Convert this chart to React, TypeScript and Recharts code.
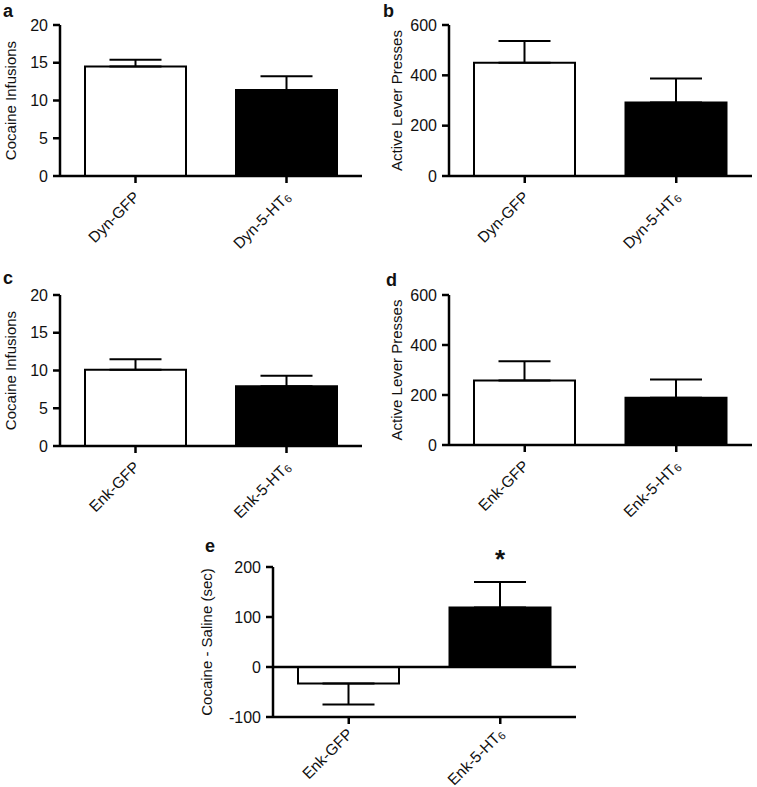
import React from "react";
import { BarChart, Bar, Cell, XAxis, YAxis, ErrorBar, ReferenceLine, LabelList } from "recharts";

const FONT = "'Liberation Sans', Arial, Helvetica, sans-serif";
const INK = "#111111";

const dynGroups = ["Dyn-GFP", "Dyn-5-HT6"];
const enkGroups = ["Enk-GFP", "Enk-5-HT6"];

const dynInfusions = [14.5, 11.4];
const dynInfusionsSem = [0.9, 1.8];
const dynPresses = [450, 292];
const dynPressesSem = [86, 95];
const enkInfusions = [10.1, 7.9];
const enkInfusionsSem = [1.4, 1.4];
const enkPresses = [258, 189];
const enkPressesSem = [77, 73];
const enkPreference = [-33, 119];
const enkPreferenceSem = [42, 51];
const enkPreferenceSig = ["", "*"];

const infusionTicks = [0, 5, 10, 15, 20];
const pressTicks = [0, 200, 400, 600];
const preferenceTicks = [-100, 0, 100, 200];

const barFills = ["#ffffff", "#000000"];

// error bars only go away from zero, like the Prism original
function rows(groups: string[], values: number[], sems: number[], sig: string[] = []) {
  return groups.map((group, i) => ({
    group,
    value: values[i],
    err: values[i] < 0 ? [sems[i], 0] : [0, sems[i]],
    sig: sig[i] ?? "",
  }));
}

function GroupTick({ x, y, payload, lift = 0 }: any) {
  const text = String(payload.value);
  const m = text.match(/^(.*HT)(\d)$/);
  return (
    <g transform={`translate(${x + 5},${y + 15 - lift})`}>
      <text transform="rotate(-45)" textAnchor="end" fontSize={15.5} fill={INK} fontFamily={FONT}>
        {m ? (
          <>
            {m[1]}
            <tspan fontSize={11} dy={2}>
              {m[2]}
            </tspan>
          </>
        ) : (
          text
        )}
      </text>
    </g>
  );
}

function StarLabel(props: any) {
  const { x, y, width, value } = props;
  if (!value) return null;
  return (
    <text x={x + width / 2} y={y - 40} textAnchor="middle" fontSize={26} fontWeight="bold" fill={INK} fontFamily={FONT}>
      {value}
    </text>
  );
}

interface PanelProps {
  left: number;
  top: number;
  width: number;
  height: number;
  marginTop: number;
  marginRight: number;
  yWidth: number;
  xHeight: number;
  data: any[];
  ticks: number[];
  yLabel: string;
  labelX: number;
  zeroLine?: boolean;
  tickLift?: number;
}

function Panel(p: PanelProps) {
  const plotH = p.height - p.marginTop - p.xHeight;
  const cy = p.marginTop + plotH / 2;
  return (
    <div style={{ position: "absolute", left: p.left, top: p.top }}>
      <BarChart
        width={p.width}
        height={p.height}
        data={p.data}
        margin={{ top: p.marginTop, right: p.marginRight, left: 0, bottom: 0 }}
      >
        <XAxis
          dataKey="group"
          height={p.xHeight}
          axisLine={{ stroke: "#000", strokeWidth: 2.5 }}
          tickLine={{ stroke: "#000", strokeWidth: 2.5 }}
          tickSize={7}
          tickMargin={0}
          interval={0}
          tick={<GroupTick lift={p.tickLift ?? 0} />}
        />
        <YAxis
          width={p.yWidth}
          domain={[p.ticks[0], p.ticks[p.ticks.length - 1]]}
          ticks={p.ticks}
          interval={0}
          axisLine={{ stroke: "#000", strokeWidth: 2.5 }}
          tickLine={{ stroke: "#000", strokeWidth: 2.5 }}
          tickSize={7}
          tickMargin={5}
          tick={{ fontSize: 16, fill: INK, fontFamily: FONT }}
          label={{
            content: () => (
              <text
                x={p.labelX}
                y={cy}
                transform={`rotate(-90 ${p.labelX} ${cy})`}
                textAnchor="middle"
                fontSize={15}
                fill={INK}
                fontFamily={FONT}
              >
                {p.yLabel}
              </text>
            ),
          }}
        />
        {p.zeroLine && <ReferenceLine y={0} stroke="#000" strokeWidth={2.5} />}
        <Bar dataKey="value" barSize={101} stroke="#000" strokeWidth={2} isAnimationActive={false}>
          {p.data.map((d, i) => (
            <Cell key={d.group} fill={barFills[i]} />
          ))}
          <ErrorBar dataKey="err" width={26} stroke="#000" strokeWidth={2} direction="y" />
          <LabelList dataKey="sig" content={<StarLabel />} />
        </Bar>
      </BarChart>
    </div>
  );
}

const panelLetters = [
  { t: "a", x: 3, y: 17 },
  { t: "b", x: 383, y: 17 },
  { t: "c", x: 3, y: 284 },
  { t: "d", x: 386, y: 286 },
  { t: "e", x: 205, y: 552 },
];

export default function App() {
  return (
    <div style={{ position: "absolute", left: 0, top: 0, width: 757, height: 787, background: "#fff", fontFamily: FONT }}>
      <Panel
        left={0}
        top={0}
        width={380}
        height={265}
        marginTop={25}
        marginRight={18}
        yWidth={60}
        xHeight={89}
        data={rows(dynGroups, dynInfusions, dynInfusionsSem)}
        ticks={infusionTicks}
        yLabel="Cocaine Infusions"
        labelX={16}
      />
      <Panel
        left={380}
        top={0}
        width={377}
        height={265}
        marginTop={25}
        marginRight={5}
        yWidth={69}
        xHeight={89}
        data={rows(dynGroups, dynPresses, dynPressesSem)}
        ticks={pressTicks}
        yLabel="Active Lever Presses"
        labelX={21.5}
      />
      <Panel
        left={0}
        top={270}
        width={380}
        height={265}
        marginTop={25}
        marginRight={18}
        yWidth={60}
        xHeight={89}
        data={rows(enkGroups, enkInfusions, enkInfusionsSem)}
        ticks={infusionTicks}
        yLabel="Cocaine Infusions"
        labelX={16}
      />
      <Panel
        left={380}
        top={270}
        width={377}
        height={265}
        marginTop={25}
        marginRight={5}
        yWidth={69}
        xHeight={90}
        data={rows(enkGroups, enkPresses, enkPressesSem)}
        ticks={pressTicks}
        yLabel="Active Lever Presses"
        labelX={21.5}
      />
      <Panel
        left={180}
        top={520}
        width={420}
        height={267}
        marginTop={47}
        marginRight={24}
        yWidth={93}
        xHeight={70}
        data={rows(enkGroups, enkPreference, enkPreferenceSem, enkPreferenceSig)}
        ticks={preferenceTicks}
        yLabel="Cocaine - Saline (sec)"
        labelX={32}
        zeroLine
        tickLift={4}
      />
      <svg width={757} height={787} style={{ position: "absolute", left: 0, top: 0, pointerEvents: "none" }}>
        {panelLetters.map((l) => (
          <text key={l.t} x={l.x} y={l.y} fontSize={18} fontWeight="bold" fill={INK} fontFamily={FONT}>
            {l.t}
          </text>
        ))}
      </svg>
    </div>
  );
}
